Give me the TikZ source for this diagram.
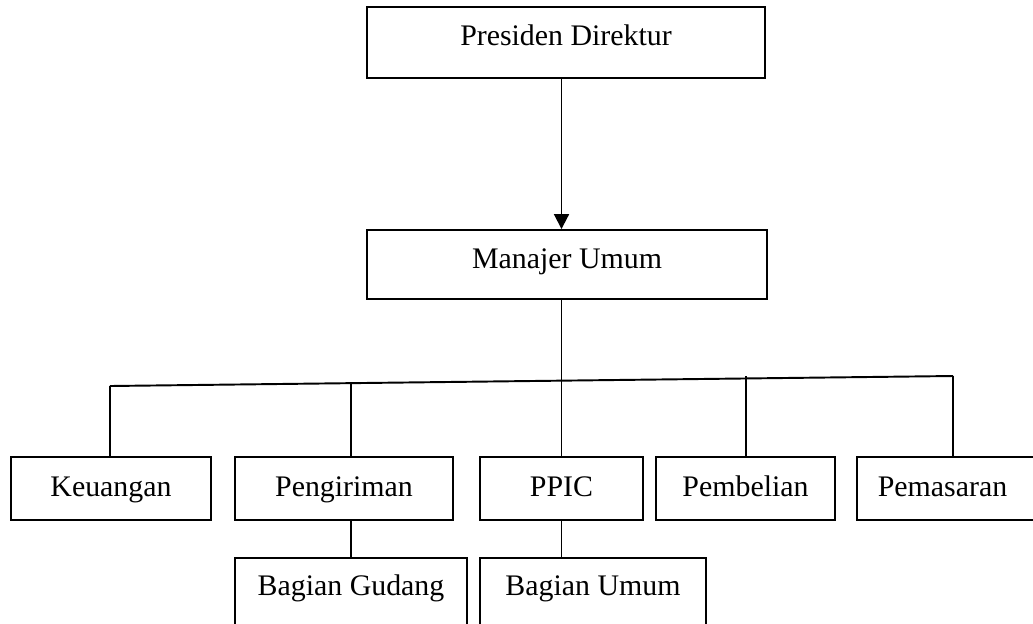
\documentclass[tikz,border=0pt]{standalone}
\usepackage{fontspec}
\setmainfont{Liberation Serif}
\usetikzlibrary{arrows.meta}
\begin{document}
\begin{tikzpicture}[x=0.02cm, y=-0.02cm, >={Triangle[length=8.5pt,width=8.5pt]}, line width=1.1pt,
    box/.style={draw, line width=1.1pt, inner sep=0pt, text height=11.5pt, font=\fontsize{17}{20}\selectfont}]
\useasboundingbox (0,0) rectangle (1033,623);

\node[box, minimum width=7.96cm, minimum height=1.42cm, text depth=8.3pt] (pd) at (566,42.5) {Presiden Direktur};
\node[box, minimum width=8.0cm, minimum height=1.38cm, text depth=6.5pt] (mu) at (567,264.5) {Manajer Umum};

\foreach \n/\x/\w/\t in {keu/111/4.0/Keuangan, kir/344/4.36/Pengiriman, ppic/561.5/3.26/PPIC,
    beli/745.5/3.58/Pembelian, pasar/951/3.76/Pemasaran\hspace*{0.34cm}}
{
    \node[box, minimum width=\w cm, minimum height=1.26cm, text depth=2pt] (\n) at (\x,488.5) {\t};
}

\foreach \n/\x/\w/\t in {gud/351/4.64/Bagian Gudang, umum/593/4.52/Bagian Umum}
{
    \node[box, minimum width=\w cm, minimum height=1.48cm, text depth=10.5pt] (\n) at (\x,595) {\t};
}

\draw[->] (pd.south -| ppic.north) -- (mu.north -| ppic.north);
\draw (mu.south -| ppic.north) -- (ppic.north);

% bus line
\coordinate (busL) at (110,386);
\coordinate (b2) at (351,383);
\coordinate (b4) at (746,376);
\coordinate (busR) at (953,376);
\draw (busL) -- (busR);
\draw (busL) -- (busL |- keu.north);
\draw (b2) -- (b2 |- kir.north);
\draw (b4) -- (b4 |- beli.north);
\draw (busR) -- (busR |- pasar.north);

\draw (kir.south -| gud.north) -- (gud.north);
\draw (ppic.south) -- (ppic.south |- umum.north);
\end{tikzpicture}
\end{document}
